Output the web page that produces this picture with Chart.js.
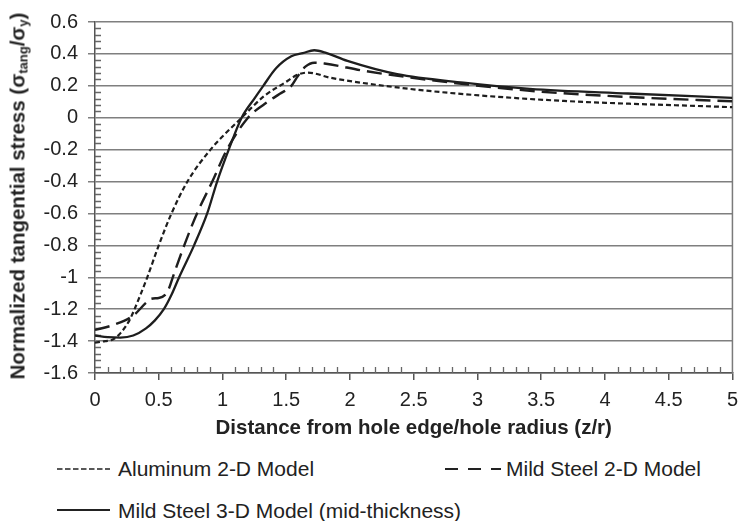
<!DOCTYPE html>
<html>
<head>
<meta charset="utf-8">
<script src="https://cdn.jsdelivr.net/npm/chart.js@4.4.0/dist/chart.umd.min.js"></script>
<style>
  body { margin: 0; background: #fff; }
  #wrap { position: relative; width: 746px; height: 521px; font-family: "Liberation Sans", Arial, sans-serif; color: #222; }
  #stress { position: absolute; left: 0; top: 0; }
  .ytitle { position: absolute; left: 18px; top: 196px; transform: translate(-50%, -50%) rotate(-90deg);
            white-space: nowrap; font-weight: bold; font-size: 20.5px; }
  .ytitle sub { font-size: 13px; vertical-align: -3px; }
  .leg { position: absolute; font-size: 21px; line-height: 24px; white-space: nowrap; }
  .sample { position: absolute; }
</style>
</head>
<body>
<div id="wrap">
  <canvas id="stress" width="746" height="445"></canvas>
  <div class="ytitle">Normalized tangential stress (σ<sub>tang</sub>/σ<sub>y</sub>)</div>

  <svg class="sample" style="left:57px;top:459px" width="54" height="20">
    <line x1="0" y1="10" x2="53" y2="10" stroke="#222" stroke-width="1.6" stroke-dasharray="5.5 2.5"/>
  </svg>
  <div class="leg" style="left:118px;top:457px">Aluminum 2-D Model</div>

  <svg class="sample" style="left:445px;top:459px" width="57" height="20">
    <line x1="0" y1="10" x2="56" y2="10" stroke="#222" stroke-width="1.8" stroke-dasharray="13 10"/>
  </svg>
  <div class="leg" style="left:506px;top:457px">Mild Steel 2-D Model</div>

  <svg class="sample" style="left:57px;top:500px" width="54" height="20">
    <line x1="0" y1="10" x2="53" y2="10" stroke="#222" stroke-width="1.8"/>
  </svg>
  <div class="leg" style="left:118px;top:499px">Mild Steel 3-D Model (mid-thickness)</div>
</div>

<script>
// distance from hole edge / hole radius
const alumX = [0, 0.08, 0.14, 0.2, 0.27, 0.31, 0.41, 0.5, 0.6, 0.725, 0.906, 1.15, 1.33, 1.49, 1.59, 1.67, 1.85, 2.37, 2.89, 3.66, 5.0];
const alumY = [-1.41, -1.40, -1.39, -1.35, -1.27, -1.2, -1.0, -0.8, -0.6, -0.4, -0.2, 0, 0.138, 0.22, 0.27, 0.283, 0.25, 0.19, 0.148, 0.106, 0.066];

const steel2X = [0, 0.14, 0.3, 0.4, 0.44, 0.5, 0.55, 0.58, 0.61, 0.70, 0.80, 0.92, 1.035, 1.2, 1.33, 1.45, 1.54, 1.59, 1.65, 1.72, 1.8, 2.11, 2.63, 3.41, 4.18, 5.0];
const steel2Y = [-1.33, -1.30, -1.24, -1.16, -1.135, -1.13, -1.11, -1.07, -1.0, -0.8, -0.6, -0.4, -0.2, 0, 0.086, 0.15, 0.2, 0.26, 0.32, 0.345, 0.34, 0.294, 0.236, 0.169, 0.13, 0.103];

const steel3X = [0, 0.1, 0.2, 0.3, 0.4, 0.47, 0.54, 0.6, 0.66, 0.777, 0.88, 0.958, 1.049, 1.15, 1.25, 1.32, 1.42, 1.54, 1.63, 1.72, 1.8, 1.98, 2.37, 2.89, 3.41, 4.18, 5.0];
const steel3Y = [-1.365, -1.375, -1.378, -1.365, -1.32, -1.27, -1.2, -1.11, -1.0, -0.8, -0.6, -0.4, -0.2, 0, 0.12, 0.2, 0.31, 0.385, 0.405, 0.423, 0.41, 0.356, 0.273, 0.22, 0.181, 0.152, 0.125];

const xTickValues = [0, 0.5, 1, 1.5, 2, 2.5, 3, 3.5, 4, 4.5, 5];
const yTickValues = [-1.6, -1.4, -1.2, -1, -0.8, -0.6, -0.4, -0.2, 0, 0.2, 0.4, 0.6];

const toPoints = (xs, ys) => xs.map((x, i) => ({ x: x, y: ys[i] }));
const fmt = v => String(Math.round(v * 10) / 10);

// minor ticks (inside) and the right-hand frame line
const minorTicks = {
  id: 'minorTicks',
  beforeDatasetsDraw(chart) {
    const { ctx, chartArea: a, scales } = chart;
    ctx.save();
    ctx.strokeStyle = '#666';
    ctx.lineWidth = 1.3;
    ctx.beginPath();
    for (let i = 1; i < 55; i++) {
      if (i % 5 === 0) continue;
      const py = Math.round(scales.y.getPixelForValue(-1.6 + i * 0.04)) + 0.5;
      ctx.moveTo(a.left, py);
      ctx.lineTo(a.left + 6, py);
    }
    for (let i = 1; i < 50; i++) {
      if (i % 5 === 0) continue;
      const px = Math.round(scales.x.getPixelForValue(i / 10)) + 0.5;
      ctx.moveTo(px, a.bottom);
      ctx.lineTo(px, a.bottom - 6);
    }
    ctx.stroke();
    ctx.strokeStyle = '#7a7a7a';
    ctx.lineWidth = 1.5;
    ctx.beginPath();
    ctx.moveTo(a.right, a.top);
    ctx.lineTo(a.right, a.bottom);
    ctx.stroke();
    ctx.restore();
  }
};

const tickFont = { family: '"Liberation Sans", Arial, sans-serif', size: 20 };

new Chart(document.getElementById('stress'), {
  type: 'line',
  data: {
    datasets: [
      { label: 'Aluminum 2-D Model', data: toPoints(alumX, alumY),
        borderColor: '#1e1e1e', borderWidth: 2.2, borderDash: [5, 3] },
      { label: 'Mild Steel 2-D Model', data: toPoints(steel2X, steel2Y),
        borderColor: '#1e1e1e', borderWidth: 2.4, borderDash: [15, 7] },
      { label: 'Mild Steel 3-D Model (mid-thickness)', data: toPoints(steel3X, steel3Y),
        borderColor: '#1e1e1e', borderWidth: 2.3 }
    ]
  },
  options: {
    responsive: false,
    animation: false,
    devicePixelRatio: 1,
    layout: { padding: { top: 21, right: 7, left: 0, bottom: 0 } },
    elements: {
      point: { radius: 0 },
      line: { cubicInterpolationMode: 'monotone', fill: false }
    },
    plugins: { legend: { display: false }, tooltip: { enabled: false } },
    scales: {
      x: {
        type: 'linear', min: 0, max: 5,
        afterBuildTicks: s => { s.ticks = xTickValues.map(v => ({ value: v })); },
        afterFit: s => { s.height = 72; },
        border: { color: '#555', width: 1.5 },
        grid: { drawOnChartArea: false, drawTicks: true, tickLength: 7, color: '#555', lineWidth: 1.5 },
        ticks: { font: tickFont, color: '#222', padding: 8, maxRotation: 0, callback: fmt },
        title: { display: true, text: 'Distance from hole edge/hole radius (z/r)', color: '#222',
                 font: { family: '"Liberation Sans", Arial, sans-serif', size: 20.5, weight: 'bold' } }
      },
      y: {
        type: 'linear', min: -1.6, max: 0.6,
        afterBuildTicks: s => { s.ticks = yTickValues.map(v => ({ value: v })); },
        afterFit: s => { s.width = 95; },
        border: { color: '#555', width: 1.5 },
        grid: { color: '#7f7f7f', lineWidth: 1.5, tickLength: 7 },
        ticks: { font: tickFont, color: '#222', padding: 10, callback: fmt }
      }
    }
  },
  plugins: [minorTicks]
});
</script>
</body>
</html>
